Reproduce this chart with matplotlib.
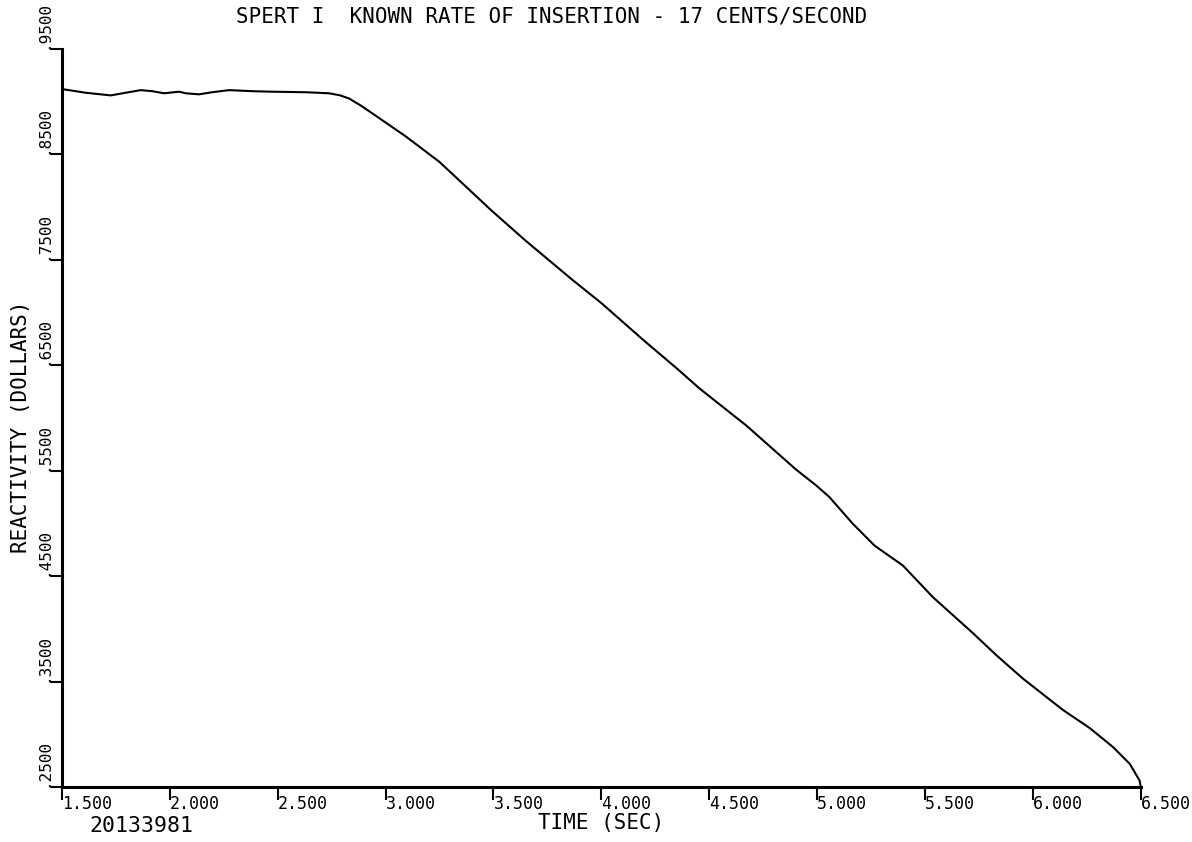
import matplotlib.pyplot as plt
import numpy as np

# reactivity trace
time_s = [1.500, 1.610, 1.726, 1.795, 1.865, 1.918, 1.973, 2.043, 2.074, 2.135,
          2.196, 2.275, 2.381, 2.474, 2.630, 2.738, 2.790, 2.831, 2.880, 2.938,
          3.094, 3.249, 3.495, 3.650, 3.866, 4.000, 4.200, 4.350, 4.455, 4.671,
          4.903, 4.996, 5.057, 5.164, 5.266, 5.398, 5.537, 5.722, 5.831, 5.953,
          6.140, 6.263, 6.371, 6.449, 6.495, 6.500]
reactivity = [0.912, 0.9085, 0.906, 0.9085, 0.911, 0.910, 0.908, 0.9095, 0.908, 0.907,
              0.909, 0.911, 0.910, 0.9095, 0.909, 0.908, 0.906, 0.903, 0.897, 0.889,
              0.867, 0.843, 0.796, 0.768, 0.731, 0.709, 0.673, 0.647, 0.628, 0.593,
              0.551, 0.536, 0.525, 0.500, 0.479, 0.460, 0.430, 0.396, 0.375, 0.353,
              0.323, 0.306, 0.288, 0.272, 0.256, 0.250]

x_ticks = [1.5, 2.0, 2.5, 3.0, 3.5, 4.0, 4.5, 5.0, 5.5, 6.0, 6.5]
y_ticks = [0.25, 0.35, 0.45, 0.55, 0.65, 0.75, 0.85, 0.95]

mono = 'DejaVu Sans Mono'

fig = plt.figure(figsize=(11.92, 8.42), dpi=100)
ax = fig.add_axes([0.052, 0.0653, 0.905, 0.8765])

ax.plot(time_s, reactivity, color='black', lw=1.5, clip_on=False,
        solid_joinstyle='round', solid_capstyle='round')

ax.set_xlim(1.5, 6.5)
ax.set_ylim(0.25, 0.95)

for side in ['top', 'right']:
    ax.spines[side].set_visible(False)
for side in ['left', 'bottom']:
    ax.spines[side].set_linewidth(2.2)

ax.set_xticks(x_ticks)
ax.set_yticks(y_ticks)
ax.tick_params(direction='out', length=9, width=1.5, labelbottom=False, labelleft=False)

# plotter-style tick labels: x labels start at the tick, y labels stand on it
for xv in x_ticks:
    ax.text(xv, -0.011, '%.3f' % xv, transform=ax.get_xaxis_transform(),
            ha='left', va='top', fontsize=12, family=mono)
for yv in y_ticks:
    ax.text(-0.017, yv, '.%04d' % round(yv * 10000), transform=ax.get_yaxis_transform(),
            ha='center', va='bottom', rotation=90, fontsize=11.5, family=mono)

fig.text(0.4625, 0.98, 'SPERT I  KNOWN RATE OF INSERTION - 17 CENTS/SECOND',
         ha='center', va='center', fontsize=15, family=mono)
fig.text(0.504, 0.022, 'TIME (SEC)', ha='center', va='center', fontsize=15, family=mono)
fig.text(0.018, 0.493, 'REACTIVITY (DOLLARS)', ha='center', va='center',
         rotation=90, fontsize=15, family=mono)
fig.text(0.119, 0.019, '20133981', ha='center', va='center', fontsize=15.5, family=mono)

fig.savefig('out.png', dpi=100)
